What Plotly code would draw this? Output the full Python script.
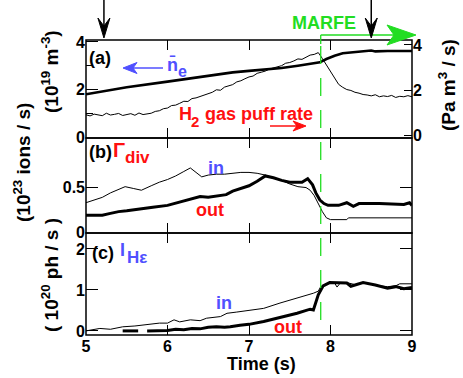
import plotly.graph_objects as go

# ---------------- data ----------------
# panel (a): line-averaged density (left axis) and H2 gas puff rate (right axis)
ne_t = [5.0, 5.2, 5.5, 6.0, 6.5, 6.8, 7.0, 7.4, 7.6, 7.8, 7.87, 7.95, 8.05, 8.15, 8.3, 8.45, 8.5, 8.55, 8.7, 9.0]
ne_v = [1.80, 1.91, 2.09, 2.33, 2.57, 2.72, 2.78, 2.90, 3.00, 3.10, 3.14, 3.28, 3.42, 3.52, 3.58, 3.61, 3.64, 3.60, 3.62, 3.62]

gas_t = [5.00, 5.05, 5.10, 5.15, 5.20, 5.25, 5.30, 5.35, 5.40, 5.45, 5.50, 5.55, 5.60, 5.65, 5.70,
         5.75, 5.80, 5.85, 5.90, 5.95, 6.00, 6.05, 6.10, 6.15, 6.20, 6.25, 6.30, 6.35, 6.40, 6.45,
         6.50, 6.55, 6.60, 6.65, 6.70, 6.75, 6.80, 6.85, 6.90, 6.95, 7.00, 7.05, 7.10, 7.15, 7.20,
         7.25, 7.30, 7.35, 7.40, 7.45, 7.50, 7.55, 7.60, 7.65, 7.70, 7.75, 7.80, 7.85, 7.90, 7.95,
         8.00, 8.05, 8.10, 8.15, 8.20, 8.25, 8.30, 8.35, 8.40, 8.45, 8.50, 8.55, 8.60, 8.65, 8.70,
         8.75, 8.80, 8.85, 8.90, 8.95, 9.00]
gas_v = [0.90, 0.85, 0.93, 0.91, 0.86, 0.97, 0.89, 0.92, 0.96, 0.87, 0.90, 0.95, 0.88, 0.98, 0.91,
         0.93, 0.97, 1.05, 1.08, 1.17, 1.20, 1.31, 1.33, 1.41, 1.50, 1.49, 1.62, 1.65, 1.71, 1.80,
         1.84, 1.90, 2.01, 1.99, 2.13, 2.19, 2.24, 2.36, 2.41, 2.50, 2.58, 2.62, 2.74, 2.79, 2.84,
         2.93, 2.99, 3.04, 3.08, 3.19, 3.22, 3.29, 3.38, 3.36, 3.47, 3.55, 3.58, 3.66, 3.40, 3.10,
         2.80, 2.50, 2.25, 2.12, 2.02, 1.98, 1.90, 1.86, 1.80, 1.78, 1.74, 1.79, 1.70, 1.74, 1.71,
         1.76, 1.67, 1.72, 1.70, 1.75, 1.70]

# panel (b): divertor particle flux, inner and outer
gb_in_t = [5.0, 5.1, 5.2, 5.3, 5.4, 5.48, 5.58, 5.68, 5.8, 5.9, 6.0, 6.1, 6.2, 6.28, 6.35, 6.42, 6.5,
           6.6, 6.7, 6.8, 6.9, 7.0, 7.1, 7.2, 7.3, 7.4, 7.5, 7.6, 7.7, 7.75, 7.8, 7.85, 7.9, 7.95,
           8.0, 8.2, 8.22, 9.0]
gb_in_v = [0.33, 0.36, 0.39, 0.44, 0.48, 0.51, 0.49, 0.47, 0.52, 0.56, 0.59, 0.63, 0.68, 0.72, 0.67,
           0.62, 0.64, 0.65, 0.65, 0.66, 0.67, 0.67, 0.66, 0.64, 0.61, 0.58, 0.54, 0.51, 0.50, 0.47,
           0.41, 0.32, 0.23, 0.16, 0.14, 0.14, 0.16, 0.16]
gb_out_t = [5.0, 5.2, 5.3, 5.4, 5.5, 5.6, 5.7, 5.82, 6.0, 6.15, 6.3, 6.4, 6.5, 6.6, 6.72, 6.8, 6.9,
            7.0, 7.1, 7.2, 7.3, 7.4, 7.5, 7.6, 7.65, 7.72, 7.78, 7.82, 7.87, 7.92, 7.97, 8.1, 8.2,
            8.28, 8.35, 8.6, 8.8, 8.9, 8.97, 9.0]
gb_out_v = [0.19, 0.19, 0.21, 0.23, 0.24, 0.25, 0.26, 0.28, 0.30, 0.34, 0.38, 0.40, 0.39, 0.40, 0.42,
            0.46, 0.49, 0.52, 0.57, 0.63, 0.61, 0.58, 0.56, 0.56, 0.56, 0.60, 0.53, 0.44, 0.36, 0.32,
            0.30, 0.30, 0.33, 0.29, 0.32, 0.32, 0.31, 0.31, 0.33, 0.30]

# panel (c): H-epsilon intensity, inner and outer
ic_in_t = [5.0, 5.1, 5.17, 5.3, 5.45, 5.6, 5.75, 5.9, 6.0, 6.08, 6.15, 6.28, 6.4, 6.48, 6.65, 6.73,
           6.85, 7.0, 7.18, 7.38, 7.59, 7.79, 7.85, 7.88, 7.95, 8.0, 8.05, 8.08, 8.12, 8.2, 8.3, 8.4,
           8.5, 8.6, 8.7, 8.8, 8.85, 9.0]
ic_in_v = [0.00, 0.04, 0.06, 0.04, 0.10, 0.12, 0.16, 0.19, 0.19, 0.27, 0.22, 0.27, 0.25, 0.31, 0.35,
           0.43, 0.46, 0.50, 0.55, 0.68, 0.80, 0.92, 0.97, 1.08, 1.15, 1.18, 1.17, 1.07, 1.17, 1.18,
           1.13, 1.17, 1.14, 1.10, 1.08, 1.10, 1.15, 1.15]
ic_out_t = [5.45, 5.64, None, 5.75, 6.0, 6.1, 6.2, 6.3, 6.4, 6.5, 6.6, 6.7, 6.77, 6.89, 7.0, 7.18,
            7.38, 7.59, 7.75, 7.79, 7.85, 7.91, 7.99, 8.1, 8.2, 8.25, 8.3, 8.4, 8.55, 8.7, 8.8,
            8.9, 9.0]
ic_out_v = [0.00, 0.00, None, 0.00, 0.01, 0.04, 0.03, 0.06, 0.05, 0.09, 0.10, 0.09, 0.10, 0.14, 0.16,
            0.23, 0.33, 0.43, 0.53, 0.51, 0.88, 1.10, 1.18, 1.18, 1.17, 1.09, 1.12, 1.18, 1.12, 1.04,
            1.08, 1.03, 1.06]

x_ticks = [5, 6, 7, 8, 9]
marfe_t = 7.88
arrow_t = [5.22, 8.5]

# ---------------- layout geometry ----------------
W, H = 463, 378
L, R, T, B = 86, 412, 40, 335
AB, BC = 138, 233          # panel boundaries (pixels)
XMIN, XMAX = 5, 9
d_c = (B - BC) / (B - T)
d_b = (B - AB) / (B - T)

def X(px):
    return (px - L) / (R - L)

def Y(py):
    return (B - py) / (B - T)

def xpx(v):
    return L + (v - XMIN) / (XMAX - XMIN) * (R - L)

BLUE = "#5050ff"
RED = "#ff1010"
GREEN = "#22dd22"
FONT = "Liberation Sans"

fig = go.Figure()
fig.add_trace(go.Scatter(x=ne_t, y=ne_v, xaxis="x3", yaxis="y3", mode="lines",
                         line=dict(color="black", width=2.6), showlegend=False))
fig.add_trace(go.Scatter(x=gas_t, y=gas_v, xaxis="x3", yaxis="y4", mode="lines",
                         line=dict(color="black", width=1), showlegend=False))
fig.add_trace(go.Scatter(x=gb_in_t, y=gb_in_v, xaxis="x2", yaxis="y2", mode="lines",
                         line=dict(color="black", width=1), showlegend=False))
fig.add_trace(go.Scatter(x=gb_out_t, y=gb_out_v, xaxis="x2", yaxis="y2", mode="lines",
                         line=dict(color="black", width=3), showlegend=False))
fig.add_trace(go.Scatter(x=ic_in_t, y=ic_in_v, xaxis="x", yaxis="y", mode="lines",
                         line=dict(color="black", width=1), showlegend=False))
fig.add_trace(go.Scatter(x=ic_out_t, y=ic_out_v, xaxis="x", yaxis="y", mode="lines",
                         line=dict(color="black", width=3), showlegend=False, connectgaps=False))

tickf = dict(family=FONT, size=16, color="black", weight="bold")
xcommon = dict(range=[XMIN, XMAX], tickvals=x_ticks, ticks="inside", ticklen=10, tickwidth=1.3,
               tickcolor="black", showline=False, mirror="ticks",
               showgrid=False, zeroline=False, tickfont=tickf)
ycommon = dict(ticks="inside", ticklen=12, tickwidth=1.3, tickcolor="black", showline=False,
               showgrid=False, zeroline=False, tickfont=tickf)

fig.update_layout(
    width=W, height=H,
    margin=dict(l=L, r=W - R, t=T, b=H - B, pad=0),
    paper_bgcolor="white", plot_bgcolor="white",
    font=dict(family=FONT, color="black"),
    xaxis=dict(**xcommon, anchor="y", showticklabels=True),
    xaxis2=dict(**xcommon, anchor="y2", matches="x", showticklabels=False),
    xaxis3=dict(**xcommon, anchor="y3", matches="x", showticklabels=False),
    yaxis=dict(**ycommon, domain=[0, d_c], range=[-0.1, 2.39], tickvals=[0, 1, 2],
               mirror="ticks", anchor="x"),
    yaxis2=dict(**ycommon, domain=[d_c, d_b], range=[-0.01, 1.056], tickvals=[0, 0.5],
                ticktext=["0", "0.5"], mirror="ticks", anchor="x2"),
    yaxis3=dict(**ycommon, domain=[d_b, 1], range=[-0.04, 4.08], tickvals=[0, 2, 4],
                minor=dict(dtick=1, ticks="inside", ticklen=7, tickcolor="black"),
                mirror=False, anchor="x3"),
    yaxis4=dict(ticks="inside", ticklen=8, tickwidth=1.3, tickcolor="black", showline=False,
                showgrid=False, zeroline=False, tickfont=tickf,
                overlaying="y3", side="right", anchor="x3", range=[-0.13, 4.22],
                tickvals=[0, 2, 4]),
)

def txt(s, px, py, color="black", size=18, xa="left", ya="middle", angle=0):
    fig.add_annotation(text=s, x=X(px), y=Y(py), xref="paper", yref="paper",
                       xanchor=xa, yanchor=ya, showarrow=False, textangle=angle,
                       font=dict(family=FONT, size=size, color=color, weight="bold"))

# axis titles
txt("(10<sup>19</sup> m<sup>-3</sup>)", 50, 72, size=19, xa="center", angle=-90)
txt("(10<sup>23</sup> ions / s)", 22, 163, size=19, xa="center", angle=-90)
txt("( 10<sup>20</sup> ph / s )", 50, 275, size=19, xa="center", angle=-90)
txt("(Pa m<sup>3</sup> / s)", 447, 85, size=19, xa="center", angle=-90)
txt("Time (s)", 261, 364, size=18, xa="center")

# panel labels
txt("(a)", 87, 58)
txt("n\u0304", 165, 65, color=BLUE)
txt("e", 176, 71, color=BLUE, size=16)
txt("H", 177, 114, color=RED)
txt("2", 189, 121, color=RED, size=15)
txt("gas puff rate", 203, 114, color=RED)
txt("MARFE", 290, 23, color=GREEN)
txt("(b)", 87, 152)
txt("\u0393", 111, 150, color=RED, size=20)
txt("div", 123, 157, color=RED, size=17)
txt("in", 206, 168, color=BLUE)
txt("out", 194, 210, color=RED)
txt("(c)", 90, 253)
txt("I", 118, 250, color=BLUE)
txt("H\u03b5", 125, 257, color=BLUE, size=17)
txt("in", 214, 303, color=BLUE)
txt("out", 272, 327, color=RED)

shapes = []
# panel frames
for top, bot in [(T, AB), (AB, BC), (BC, B)]:
    shapes.append(dict(type="rect", xref="paper", yref="paper", x0=0, x1=1, y0=Y(bot), y1=Y(top),
                       line=dict(color="black", width=1.5), layer="above"))
# blue arrow (density -> left axis)
shapes.append(dict(type="line", xref="paper", yref="paper", x0=X(163), y0=Y(68), x1=X(132), y1=Y(68),
                   line=dict(color=BLUE, width=1.5)))
shapes.append(dict(type="path", xref="paper", yref="paper",
                   path=f"M{X(123)},{Y(68)} L{X(137)},{Y(62.5)} L{X(133)},{Y(68)} L{X(137)},{Y(73.5)} Z",
                   fillcolor=BLUE, line=dict(color=BLUE, width=1)))
# red arrow (gas puff -> right axis)
shapes.append(dict(type="line", xref="paper", yref="paper", x0=X(270), y0=Y(126), x1=X(298), y1=Y(126),
                   line=dict(color=RED, width=1.5)))
shapes.append(dict(type="path", xref="paper", yref="paper",
                   path=f"M{X(306)},{Y(126)} L{X(293)},{Y(121)} L{X(297)},{Y(126)} L{X(293)},{Y(131)} Z",
                   fillcolor=RED, line=dict(color=RED, width=1)))
# MARFE marker: dashed vertical line and green arrow
mx = xpx(marfe_t)
shapes.append(dict(type="line", xref="paper", yref="paper", x0=X(mx), y0=Y(320), x1=X(mx), y1=Y(44),
                   line=dict(color=GREEN, width=1.3, dash="18px,14px")))
shapes.append(dict(type="line", xref="paper", yref="paper", x0=X(mx), y0=Y(35), x1=X(mx), y1=Y(44),
                   line=dict(color=GREEN, width=1.3)))
shapes.append(dict(type="line", xref="paper", yref="paper", x0=X(mx), y0=Y(35), x1=X(395), y1=Y(35),
                   line=dict(color=GREEN, width=1.3)))
shapes.append(dict(type="path", xref="paper", yref="paper",
                   path=f"M{X(416)},{Y(35)} L{X(387)},{Y(25)} L{X(394)},{Y(35)} L{X(387)},{Y(45)} Z",
                   fillcolor=GREEN, line=dict(color=GREEN, width=1)))
# black time markers on top
for t in arrow_t:
    ax = xpx(t)
    shapes.append(dict(type="line", xref="paper", yref="paper", x0=X(ax), y0=Y(0), x1=X(ax), y1=Y(30),
                       line=dict(color="black", width=1.5)))
    shapes.append(dict(type="path", xref="paper", yref="paper",
                       path=f"M{X(ax)},{Y(38)} L{X(ax - 6)},{Y(18)} L{X(ax)},{Y(26)} L{X(ax + 6)},{Y(18)} Z",
                       fillcolor="black", line=dict(color="black", width=1)))
fig.update_layout(shapes=shapes)

fig.write_html("out.html", config={"displayModeBar": False},
               post_script="document.body.style.margin='0px';document.body.style.padding='0px';")
